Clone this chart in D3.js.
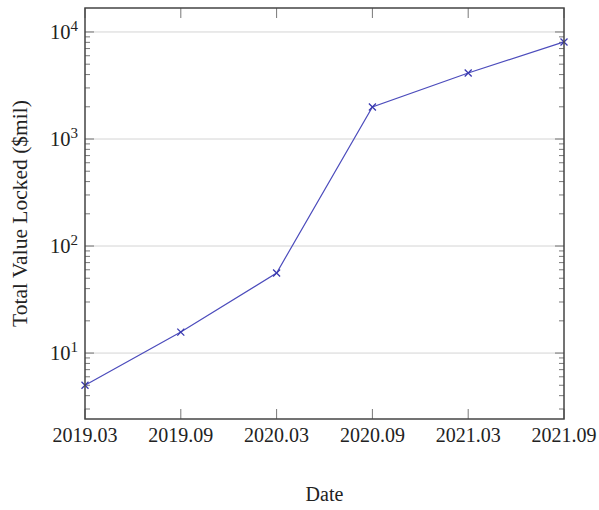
<!DOCTYPE html>
<html>
<head>
<meta charset="utf-8">
<script src="https://cdn.jsdelivr.net/npm/d3@7"></script>
<style>
  body { margin: 0; background: #fff; }
  text { font-family: "Liberation Serif", "DejaVu Serif", serif; fill: #222; }
</style>
</head>
<body>
<svg id="chart"></svg>
<script>
// data
var dates = ["2019.03", "2019.09", "2020.03", "2020.09", "2021.03", "2021.09"];
var tvl = [5, 15.7, 56, 1990, 4140, 8070];
var decades = [1, 2, 3, 4];

var width = 599, height = 510;
var margin = {top: 8, right: 35, bottom: 91, left: 85};

var svg = d3.select("#chart")
    .attr("width", width)
    .attr("height", height);

var plotW = width - margin.left - margin.right;
var plotH = height - margin.top - margin.bottom;

var x = d3.scalePoint()
    .domain(dates)
    .range([0, plotW]);

var y = d3.scaleLog()
    .domain([2.42, 16750])
    .range([plotH, 0]);

var g = svg.append("g")
    .attr("transform", "translate(" + margin.left + "," + margin.top + ")");

// grid lines at decades
g.selectAll(".grid")
    .data(decades)
    .enter().append("line")
    .attr("x1", 0).attr("x2", plotW)
    .attr("y1", function(d) { return y(Math.pow(10, d)); })
    .attr("y2", function(d) { return y(Math.pow(10, d)); })
    .style("stroke", "#d4d4d4")
    .style("stroke-width", 1);

// minor ticks on left and right
var minors = [];
for (var e = 0; e <= 4; e++) {
    for (var m = 2; m <= 9; m++) {
        var v = m * Math.pow(10, e);
        if (v > y.domain()[0] && v < y.domain()[1]) minors.push(v);
    }
}
g.selectAll(".minorL")
    .data(minors)
    .enter().append("line")
    .attr("x1", 0).attr("x2", 5)
    .attr("y1", function(d) { return y(d); })
    .attr("y2", function(d) { return y(d); })
    .style("stroke", "#555").style("stroke-width", 0.8);
g.selectAll(".minorR")
    .data(minors)
    .enter().append("line")
    .attr("x1", plotW - 5).attr("x2", plotW)
    .attr("y1", function(d) { return y(d); })
    .attr("y2", function(d) { return y(d); })
    .style("stroke", "#555").style("stroke-width", 0.8);

// major y ticks both sides
decades.forEach(function(d) {
    var yy = y(Math.pow(10, d));
    g.append("line").attr("x1", 0).attr("x2", 9).attr("y1", yy).attr("y2", yy)
        .style("stroke", "#555").style("stroke-width", 0.8);
    g.append("line").attr("x1", plotW - 9).attr("x2", plotW).attr("y1", yy).attr("y2", yy)
        .style("stroke", "#555").style("stroke-width", 0.8);
});

// x ticks bottom and top
g.selectAll(".xtickB")
    .data(dates)
    .enter().append("line")
    .attr("x1", function(d) { return x(d); })
    .attr("x2", function(d) { return x(d); })
    .attr("y1", plotH).attr("y2", plotH - 10)
    .style("stroke", "#555").style("stroke-width", 0.8);
g.selectAll(".xtickT")
    .data(dates)
    .enter().append("line")
    .attr("x1", function(d) { return x(d); })
    .attr("x2", function(d) { return x(d); })
    .attr("y1", 0).attr("y2", 10)
    .style("stroke", "#555").style("stroke-width", 0.8);

// x tick labels
g.selectAll(".xlabel")
    .data(dates)
    .enter().append("text")
    .attr("x", function(d) { return x(d); })
    .attr("y", plotH + 23)
    .attr("text-anchor", "middle")
    .style("font-size", "20px")
    .text(function(d) { return d; });

// y tick labels 10^n
decades.forEach(function(d) {
    var t = g.append("text")
        .attr("x", -7)
        .attr("y", y(Math.pow(10, d)) + 7)
        .attr("text-anchor", "end")
        .style("font-size", "20.5px");
    t.append("tspan").text("10");
    t.append("tspan").attr("dy", -8).style("font-size", "15px").text(d);
});

// the line
var line = d3.line()
    .x(function(d, i) { return x(dates[i]); })
    .y(function(d) { return y(d); });

g.append("path")
    .datum(tvl)
    .attr("d", line)
    .style("fill", "none")
    .style("stroke", "#4c4cbc")
    .style("stroke-width", 1.2);

// x markers
var mk = 3.5;
g.selectAll(".mark")
    .data(tvl)
    .enter().append("path")
    .attr("d", function(d, i) {
        var cx = x(dates[i]), cy = y(d);
        return "M" + (cx - mk) + "," + (cy - mk) + "L" + (cx + mk) + "," + (cy + mk) +
               "M" + (cx - mk) + "," + (cy + mk) + "L" + (cx + mk) + "," + (cy - mk);
    })
    .style("stroke", "#3a3ab0")
    .style("stroke-width", 1.3);

// frame
g.append("rect")
    .attr("width", plotW).attr("height", plotH)
    .style("fill", "none")
    .style("stroke", "#444")
    .style("stroke-width", 1.5);

// axis titles
svg.append("text")
    .attr("x", margin.left + plotW / 2)
    .attr("y", 501)
    .attr("text-anchor", "middle")
    .style("font-size", "20px")
    .text("Date");

svg.append("text")
    .attr("transform", "translate(27," + (margin.top + plotH / 2) + ") rotate(-90)")
    .attr("text-anchor", "middle")
    .style("font-size", "21.5px")
    .text("Total Value Locked ($mil)");
</script>
</body>
</html>
